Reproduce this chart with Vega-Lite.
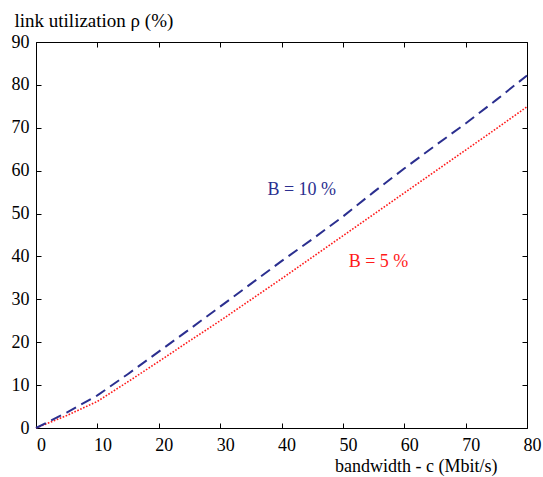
{
  "$schema": "https://vega.github.io/schema/vega-lite/v6.json",
  "width": 491,
  "height": 386,
  "autosize": {"type": "none"},
  "padding": {"left": 36, "top": 42, "right": 16, "bottom": 49},
  "background": "white",
  "config": {
    "font": "Liberation Serif",
    "view": {"stroke": "black", "strokeWidth": 1},
    "axis": {"grid": false, "domain": false, "tickColor": "black", "labelColor": "black", "titleColor": "black", "labelFont": "Liberation Serif", "titleFont": "Liberation Serif", "labelFontSize": 18, "titleFontSize": 19, "titleFontWeight": "normal"}
  },
  "datasets": {
    "curves": [
      {"c": 0, "rho": 0, "B": "10"},
      {"c": 5, "rho": 3.6, "B": "10"},
      {"c": 10, "rho": 7.6, "B": "10"},
      {"c": 15, "rho": 12.6, "B": "10"},
      {"c": 20, "rho": 17.8, "B": "10"},
      {"c": 25, "rho": 23.0, "B": "10"},
      {"c": 30, "rho": 28.3, "B": "10"},
      {"c": 35, "rho": 33.6, "B": "10"},
      {"c": 40, "rho": 38.9, "B": "10"},
      {"c": 45, "rho": 44.0, "B": "10"},
      {"c": 50, "rho": 49.3, "B": "10"},
      {"c": 55, "rho": 55.0, "B": "10"},
      {"c": 60, "rho": 60.5, "B": "10"},
      {"c": 65, "rho": 65.8, "B": "10"},
      {"c": 70, "rho": 71.0, "B": "10"},
      {"c": 75, "rho": 76.5, "B": "10"},
      {"c": 80, "rho": 82.2, "B": "10"},
      {"c": 0, "rho": 0, "B": "5"},
      {"c": 5, "rho": 2.9, "B": "5"},
      {"c": 10, "rho": 6.2, "B": "5"},
      {"c": 15, "rho": 10.8, "B": "5"},
      {"c": 20, "rho": 15.5, "B": "5"},
      {"c": 25, "rho": 20.3, "B": "5"},
      {"c": 30, "rho": 25.0, "B": "5"},
      {"c": 35, "rho": 29.9, "B": "5"},
      {"c": 40, "rho": 34.8, "B": "5"},
      {"c": 45, "rho": 39.8, "B": "5"},
      {"c": 50, "rho": 44.8, "B": "5"},
      {"c": 55, "rho": 49.8, "B": "5"},
      {"c": 60, "rho": 54.8, "B": "5"},
      {"c": 65, "rho": 59.8, "B": "5"},
      {"c": 70, "rho": 64.8, "B": "5"},
      {"c": 75, "rho": 69.8, "B": "5"},
      {"c": 80, "rho": 74.9, "B": "5"}
    ],
    "labels": [
      {"c": 43.3, "rho": 55.5, "text": "B = 10 %", "B": "10"},
      {"c": 55.8, "rho": 38.8, "text": "B = 5 %", "B": "5"}
    ]
  },
  "resolve": {"axis": {"x": "independent", "y": "independent"}},
  "layer": [
    {
      "data": {"name": "curves"},
      "transform": [{"filter": "datum.B === '5'"}],
      "mark": {"type": "line", "color": "#ff1a1a", "strokeWidth": 1.6, "strokeDash": [1.6, 1.6]},
      "encoding": {
        "x": {"field": "c", "type": "quantitative", "scale": {"domain": [0, 80], "nice": false},
          "axis": {"orient": "bottom", "values": [0,10,20,30,40,50,60,70,80], "tickSize": -5, "labelPadding": 13, "labelOffset": 5, "labelFont": "Liberation Serif", "labelFontSize": 18, "title": "bandwidth - c (Mbit/s)", "titleFont": "Liberation Serif", "titleFontSize": 18, "titleAnchor": "end", "titleAlign": "right", "titleX": 461, "titleY": 43, "titleBaseline": "alphabetic", "labelOverlap": false, "labelFlush": false}},
        "y": {"field": "rho", "type": "quantitative", "scale": {"domain": [0, 90], "nice": false},
          "axis": {"orient": "left", "values": [0,10,20,30,40,50,60,70,80,90], "tickSize": -5, "labelPadding": 12, "labelFont": "Liberation Serif", "labelFontSize": 18, "title": "link utilization  ρ (%)", "titleFont": "Liberation Serif", "titleAngle": 0, "titleAlign": "left", "titleAnchor": "start", "titleX": -22, "titleY": -16, "titleBaseline": "alphabetic", "labelOverlap": false, "labelFlush": false}}
      }
    },
    {
      "data": {"name": "curves"},
      "transform": [{"filter": "datum.B === '10'"}],
      "mark": {"type": "line", "color": "#2b2f8f", "strokeWidth": 2, "strokeDash": [11, 6]},
      "encoding": {
        "x": {"field": "c", "type": "quantitative", "axis": {"orient": "top", "values": [0,10,20,30,40,50,60,70,80], "tickSize": -5, "labels": false, "title": null}},
        "y": {"field": "rho", "type": "quantitative", "axis": {"orient": "right", "values": [0,10,20,30,40,50,60,70,80,90], "tickSize": -5, "labels": false, "title": null}}
      }
    },
    {
      "data": {"name": "labels"},
      "mark": {"type": "text", "font": "Liberation Serif", "fontSize": 18, "align": "center", "baseline": "middle"},
      "encoding": {
        "x": {"field": "c", "type": "quantitative", "axis": null},
        "y": {"field": "rho", "type": "quantitative", "axis": null},
        "text": {"field": "text"},
        "color": {"field": "B", "type": "nominal", "scale": {"domain": ["10", "5"], "range": ["#2b2f8f", "#ff1a1a"]}, "legend": null}
      }
    }
  ]
}
